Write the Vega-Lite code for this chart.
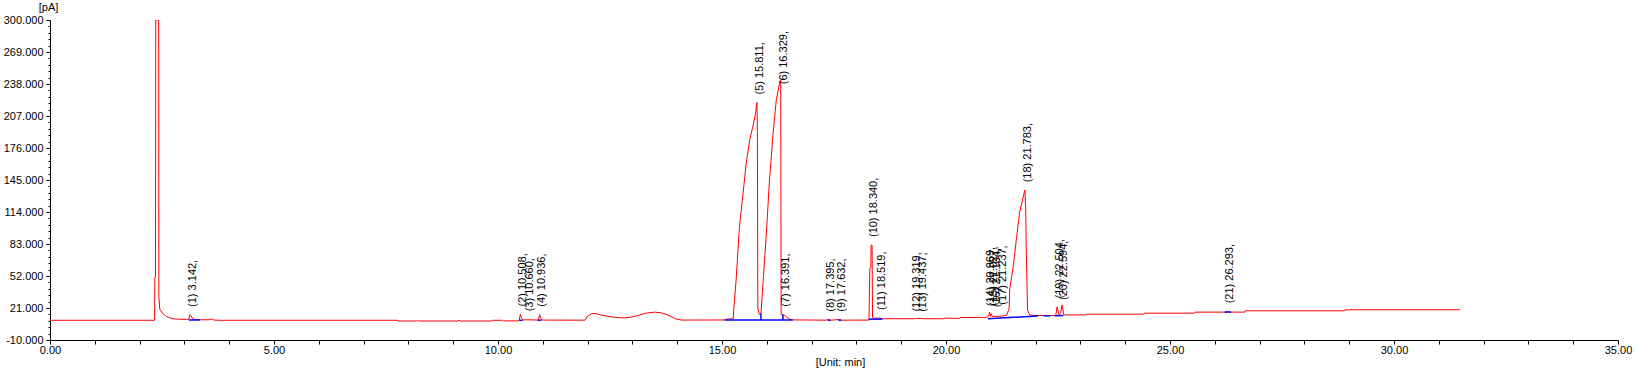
{
  "$schema": "https://vega.github.io/schema/vega-lite/v6.json",
  "width": 1568,
  "height": 320,
  "autosize": {"type": "none"},
  "padding": {"left": 50, "top": 20, "right": 18, "bottom": 34},
  "background": "#ffffff",
  "config": {"view": {"stroke": null}},
  "datasets": {
    "trace": [
      {"t":0,"v":9.1},{"t":2.335,"v":9.1},{"t":2.34,"v":50},{"t":2.355,"v":52},{"t":2.36,"v":300},{"t":2.395,"v":300},{"t":2.425,"v":300},
      {"t":2.43,"v":32},{"t":2.45,"v":20},{"t":2.5,"v":16.5},{"t":2.55,"v":14.5},{"t":2.6,"v":12.8},{"t":2.65,"v":12},{"t":2.7,"v":11},
      {"t":2.78,"v":10.4},{"t":2.9,"v":10.1},{"t":3.05,"v":10},{"t":3.1,"v":10.2},{"t":3.12,"v":14.3},{"t":3.15,"v":13.5},{"t":3.18,"v":11},
      {"t":3.22,"v":10},{"t":3.35,"v":9.6},{"t":3.55,"v":9.6},{"t":3.62,"v":10.4},{"t":3.66,"v":9.3},{"t":3.8,"v":9.1},
      {"t":7.75,"v":9.1},{"t":7.76,"v":8.4},{"t":8.18,"v":8.4},{"t":8.2,"v":9.0},{"t":8.22,"v":8.4},{"t":9.1,"v":8.4},{"t":9.13,"v":9.0},
      {"t":9.16,"v":8.4},{"t":9.85,"v":8.4},{"t":9.87,"v":9.1},{"t":10.1,"v":9.1},{"t":10.12,"v":8.5},{"t":10.45,"v":8.5},{"t":10.47,"v":9.1},
      {"t":10.5,"v":14.7},{"t":10.53,"v":11},{"t":10.56,"v":9.4},{"t":10.66,"v":9.6},{"t":10.9,"v":9.3},{"t":10.93,"v":14.5},{"t":10.96,"v":10.5},
      {"t":11,"v":9.3},{"t":11.94,"v":9.2},{"t":12,"v":13},{"t":12.1,"v":15.7},{"t":12.2,"v":15.5},{"t":12.3,"v":14.2},{"t":12.44,"v":13},
      {"t":12.6,"v":12},{"t":12.79,"v":11.4},{"t":12.95,"v":12},{"t":13.1,"v":13.5},{"t":13.3,"v":16},{"t":13.5,"v":17},{"t":13.65,"v":16.3},
      {"t":13.8,"v":14},{"t":13.97,"v":10.4},{"t":14.1,"v":9.3},{"t":15.05,"v":9.4},{"t":15.12,"v":10.3},{"t":15.25,"v":10.5},
      {"t":15.27,"v":24},{"t":15.32,"v":51},{"t":15.39,"v":100},{"t":15.47,"v":132},{"t":15.54,"v":161},{"t":15.62,"v":184},{"t":15.69,"v":197},
      {"t":15.75,"v":210},{"t":15.78,"v":220},{"t":15.79,"v":190},{"t":15.8,"v":21},{"t":15.83,"v":14.8},{"t":15.87,"v":16},{"t":15.9,"v":35},
      {"t":15.99,"v":93},{"t":16.06,"v":145},{"t":16.14,"v":190},{"t":16.21,"v":222},{"t":16.29,"v":240},{"t":16.31,"v":242},{"t":16.32,"v":15},
      {"t":16.36,"v":14.5},{"t":16.4,"v":14},{"t":16.45,"v":12},{"t":16.5,"v":10.5},{"t":16.56,"v":9.5},{"t":17.3,"v":9.2},{"t":17.395,"v":9.8},
      {"t":17.42,"v":9.2},{"t":17.63,"v":9.8},{"t":17.66,"v":9.2},{"t":18.28,"v":9.3},{"t":18.3,"v":59},{"t":18.32,"v":60},{"t":18.33,"v":82},
      {"t":18.35,"v":82},{"t":18.36,"v":12},{"t":18.4,"v":11},{"t":18.52,"v":11.3},{"t":18.6,"v":10.6},{"t":19.3,"v":10.6},{"t":19.32,"v":10.9},
      {"t":19.44,"v":10.9},{"t":19.5,"v":10.6},{"t":19.95,"v":10.6},{"t":20,"v":11.3},{"t":20.1,"v":11},{"t":20.3,"v":11},{"t":20.32,"v":11.8},
      {"t":20.9,"v":11.9},{"t":20.95,"v":13},{"t":20.97,"v":17},{"t":20.99,"v":13},{"t":21.01,"v":15.5},{"t":21.03,"v":12.7},{"t":21.1,"v":13},
      {"t":21.2,"v":12.8},{"t":21.24,"v":13.2},{"t":21.3,"v":13.5},{"t":21.36,"v":14.2},{"t":21.41,"v":20.7},{"t":21.42,"v":38.4},{"t":21.5,"v":61},
      {"t":21.57,"v":87},{"t":21.64,"v":112.7},{"t":21.76,"v":135.3},{"t":21.78,"v":116},{"t":21.79,"v":80.5},{"t":21.82,"v":19},{"t":21.87,"v":14.2},
      {"t":22,"v":13.7},{"t":22.45,"v":13.8},{"t":22.48,"v":22},{"t":22.52,"v":14.5},{"t":22.56,"v":16},{"t":22.59,"v":24},{"t":22.63,"v":14.3},
      {"t":23.13,"v":14.3},{"t":23.14,"v":15},{"t":24.42,"v":15},{"t":24.43,"v":16},{"t":25.55,"v":16},{"t":25.56,"v":17},{"t":26.28,"v":17},
      {"t":26.3,"v":17.8},{"t":26.32,"v":17},{"t":26.67,"v":17},{"t":26.68,"v":18.3},{"t":28.9,"v":18.3},{"t":28.91,"v":19.3},{"t":31.47,"v":19.3}
    ],
    "blue": [
      {"g":1,"t":3.1,"v":9.4},{"g":1,"t":3.35,"v":9.4},
      {"g":2,"t":10.47,"v":9.1},{"g":2,"t":10.55,"v":9.1},
      {"g":3,"t":10.88,"v":9.2},{"g":3,"t":10.97,"v":9.2},
      {"g":4,"t":15.06,"v":9.4},{"g":4,"t":16.58,"v":9.4},
      {"g":5,"t":15.87,"v":9.4},{"g":5,"t":15.87,"v":16},
      {"g":6,"t":16.36,"v":9.4},{"g":6,"t":16.36,"v":14.5},
      {"g":7,"t":17.36,"v":9.2},{"g":7,"t":17.42,"v":9.2},
      {"g":8,"t":17.6,"v":9.2},{"g":8,"t":17.66,"v":9.2},
      {"g":9,"t":18.28,"v":10.2},{"g":9,"t":18.58,"v":10.2},
      {"g":10,"t":20.94,"v":10.6},{"g":10,"t":22.05,"v":13.3},
      {"g":11,"t":22.18,"v":13.4},{"g":11,"t":22.33,"v":13.4},
      {"g":12,"t":22.42,"v":13.6},{"g":12,"t":22.62,"v":13.8},
      {"g":13,"t":26.22,"v":17.1},{"g":13,"t":26.36,"v":17.1}
    ],
    "peaks": [
      {"t":3.142,"v":14.3,"label":"(1) 3.142,"},
      {"t":10.508,"v":14.7,"label":"(2) 10.508,"},
      {"t":10.66,"v":10,"label":"(3) 10.660,"},
      {"t":10.936,"v":14.5,"label":"(4) 10.936,"},
      {"t":15.811,"v":220,"label":"(5) 15.811,"},
      {"t":16.329,"v":230,"label":"(6) 16.329,"},
      {"t":16.391,"v":14.5,"label":"(7) 16.391,"},
      {"t":17.395,"v":9.7,"label":"(8) 17.395,"},
      {"t":17.632,"v":9.7,"label":"(9) 17.632,"},
      {"t":18.34,"v":82,"label":"(10) 18.340,"},
      {"t":18.519,"v":11.3,"label":"(11) 18.519,"},
      {"t":19.319,"v":9.8,"label":"(12) 19.319,"},
      {"t":19.437,"v":9.5,"label":"(13) 19.437,"},
      {"t":20.969,"v":15,"label":"(14) 20.969,"},
      {"t":21.027,"v":15.5,"label":"(15) 21.027,"},
      {"t":21.104,"v":14,"label":"(16) 21.104,"},
      {"t":21.237,"v":16.5,"label":"(17) 21.237,"},
      {"t":21.783,"v":135,"label":"(18) 21.783,"},
      {"t":22.504,"v":22.5,"label":"(19) 22.504,"},
      {"t":22.594,"v":21,"label":"(20) 22.594,"},
      {"t":26.293,"v":17.8,"label":"(21) 26.293,"}
    ]
  },
  "encoding": {
    "x": {
      "field": "t", "type": "quantitative",
      "scale": {"domain": [0, 35], "nice": false, "zero": false},
      "axis": {
        "values": [0,1,2,3,4,5,6,7,8,9,10,11,12,13,14,15,16,17,18,19,20,21,22,23,24,25,26,27,28,29,30,31,32,33,34,35],
        "labelExpr": "datum.value % 5 === 0 ? format(datum.value, '.2f') : ''",
        "labelFlush": false, "labelOverlap": false, "labelBound": false,
        "grid": false, "tickSize": 4, "labelPadding": 0,
        "domainColor": "#000000", "tickColor": "#000000", "labelColor": "#000000",
        "labelFont": "Liberation Sans", "labelFontSize": 11,
        "title": "[Unit: min]", "titleX": 790, "titleY": 22, "titleAlign": "center", "titleBaseline": "middle",
        "titleFont": "Liberation Sans", "titleFontSize": 11, "titleFontWeight": "normal", "titleColor": "#000000"
      }
    },
    "y": {
      "field": "v", "type": "quantitative",
      "scale": {"domain": [-10, 300], "nice": false, "zero": false},
      "axis": {
        "values": [-10,-3.8,2.4,8.6,14.8,21,27.2,33.4,39.6,45.8,52,58.2,64.4,70.6,76.8,83,89.2,95.4,101.6,107.8,114,120.2,126.4,132.6,138.8,145,151.2,157.4,163.6,169.8,176,182.2,188.4,194.6,200.8,207,213.2,219.4,225.6,231.8,238,244.2,250.4,256.6,262.8,269,275.2,281.4,287.6,293.8,300],
        "labelExpr": "abs((datum.value + 10) / 31 - round((datum.value + 10) / 31)) < 0.001 ? replace(format(datum.value, '.3f'), '\u2212', '-') : ''",
        "tickSize": {"condition": {"test": "abs((datum.value + 10) / 31 - round((datum.value + 10) / 31)) < 0.001", "value": 4}, "value": 2},
        "labelOverlap": false, "labelBound": false, "labelFlush": false,
        "grid": false, "labelPadding": 3,
        "domainColor": "#000000", "tickColor": "#000000", "labelColor": "#000000",
        "labelFont": "Liberation Sans", "labelFontSize": 11,
        "title": "[pA]", "titleAngle": 0, "titleX": -2, "titleY": -13, "titleAlign": "center", "titleBaseline": "middle",
        "titleFont": "Liberation Sans", "titleFontSize": 11, "titleFontWeight": "normal", "titleColor": "#000000"
      }
    }
  },
  "layer": [
    {"data": {"name": "trace"}, "mark": {"type": "line", "color": "#ff0000", "strokeWidth": 1, "clip": true}},
    {"data": {"name": "blue"}, "mark": {"type": "line", "color": "#0000ff", "strokeWidth": 1.5, "clip": true},
     "encoding": {"detail": {"field": "g", "type": "nominal"}}},
    {"data": {"name": "peaks"}, "mark": {"type": "text", "angle": 270, "align": "left", "baseline": "middle", "dx": 8, "dy": 2,
      "font": "Liberation Sans", "fontSize": 11, "fill": "#000000"},
     "encoding": {"text": {"field": "label", "type": "nominal"}}}
  ]
}
